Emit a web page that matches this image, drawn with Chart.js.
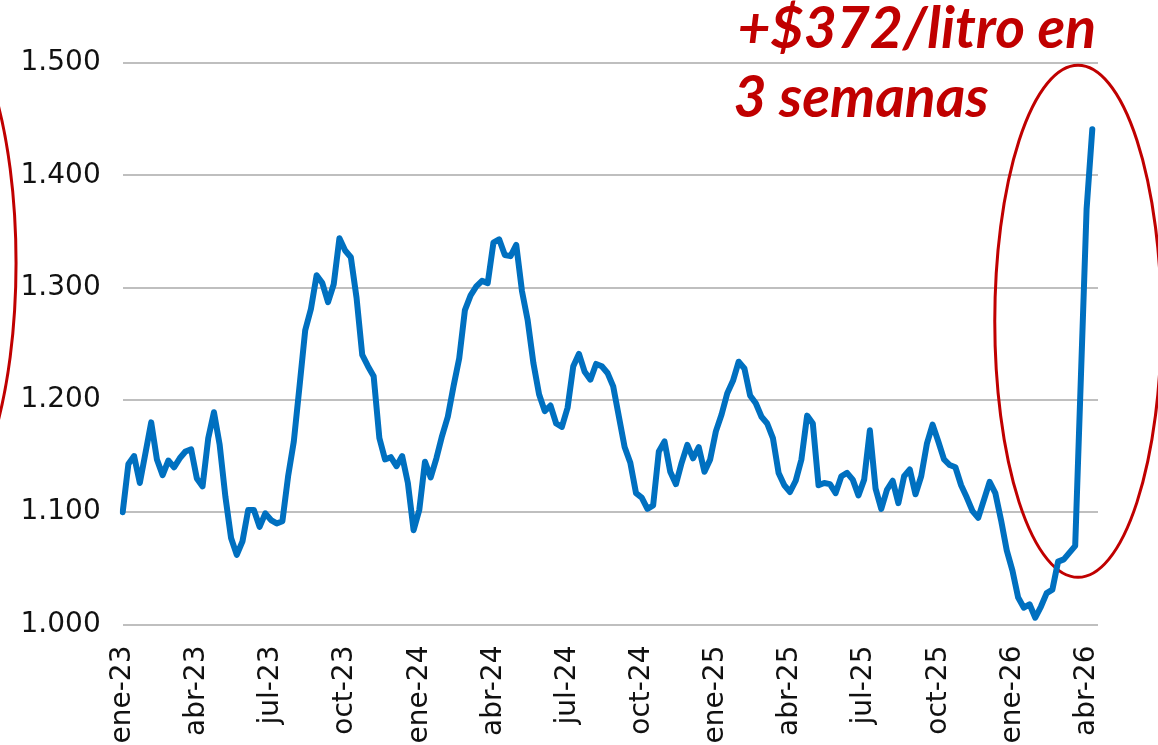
<!DOCTYPE html>
<html>
<head>
<meta charset="utf-8">
<script src="https://cdn.jsdelivr.net/npm/chart.js@4.4.1/dist/chart.umd.min.js"></script>
<style>
  html, body { margin: 0; padding: 0; background: #ffffff; overflow: hidden; }
  #wrap { width: 1158px; height: 745px; position: relative; }
</style>
</head>
<body>
<div id="wrap"><canvas id="c" width="1158" height="745"></canvas></div>
<script>
// ---------- data ----------
const firstWeek = '2023-01-05';   // first weekly category (Thursday)
const weekCount = 172;            // weekly categories on the axis (last one has no value yet)

// weekly price, $/litro
const prices = [
  1100, 1143, 1150, 1126, 1153, 1180, 1147, 1133, 1146, 1140,
  1148, 1154, 1156, 1130, 1123, 1166, 1189, 1160, 1114, 1077,
  1062, 1074, 1102, 1102, 1087, 1099, 1093, 1090, 1092, 1132,
  1163, 1212, 1262, 1281, 1311, 1304, 1287, 1303, 1344, 1333,
  1327, 1291, 1240, 1230, 1221, 1166, 1147, 1149, 1141, 1150,
  1126, 1084, 1102, 1145, 1131, 1148, 1168, 1185, 1212, 1237,
  1280, 1293, 1301, 1306, 1304, 1340, 1343, 1329, 1328, 1338,
  1297, 1271, 1233, 1205, 1190, 1195, 1179, 1176, 1193, 1230,
  1241, 1225, 1218, 1232, 1230, 1224, 1212, 1185, 1158, 1144,
  1117, 1113, 1103, 1106, 1154, 1163, 1136, 1125, 1144, 1160,
  1148, 1158, 1136, 1147, 1172, 1187, 1206, 1217, 1234, 1228,
  1204, 1197, 1185, 1179, 1166, 1135, 1124, 1118, 1128, 1147,
  1186, 1179, 1124, 1126, 1125, 1117, 1132, 1135, 1129, 1115,
  1129, 1173, 1121, 1103, 1120, 1128, 1108, 1132, 1138, 1116,
  1132, 1161, 1178, 1163, 1147, 1142, 1140, 1124, 1113, 1101,
  1095, 1111, 1127, 1117, 1093, 1066, 1048, 1024, 1015, 1018,
  1006, 1016, 1028, 1031, 1056, 1058, 1064, 1070, 1220, 1370,
  1441
];

const tickLabels = ['ene-23', 'abr-23', 'jul-23', 'oct-23', 'ene-24', 'abr-24', 'jul-24',
                    'oct-24', 'ene-25', 'abr-25', 'jul-25', 'oct-25', 'ene-26', 'abr-26'];
const tickEvery = 13;             // one label every 13 weeks
const yTicks = [1000, 1100, 1200, 1300, 1400, 1500];

const noteLines = ['+$372/litro en', '3 semanas'];

// ---------- helpers ----------
const weeks = [];
for (let i = 0; i < weekCount; i++) {
  const d = new Date(firstWeek + 'T00:00:00Z');
  d.setUTCDate(d.getUTCDate() + 7 * i);
  weeks.push(d.toISOString().slice(0, 10));
}
const fmt = v => String(Math.round(v)).replace(/\B(?=(\d{3})+(?!\d))/g, '.');

// highlight ellipses, in axis units (category index / price)
const ellipses = [
  { ci: 167.5, cv: 1270, ri: 14.6, rv: 228 },
  { ci: -33.4, cv: 1322, ri: 14.7, rv: 228 }
];
// annotation text anchors, in axis units
const noteAnchors = [
  { ci: 107.8, cv: 1513 },
  { ci: 107.1, cv: 1452 }
];

const annot = {
  id: 'annot',
  beforeDatasetsDraw(chart) {
    const { ctx, scales: { x, y } } = chart;
    ctx.save();
    ctx.strokeStyle = '#C00000';
    ctx.lineWidth = 3;
    for (const e of ellipses) {
      const cx = x.getPixelForValue(e.ci);
      const cy = y.getPixelForValue(e.cv);
      const rx = Math.abs(x.getPixelForValue(e.ci + e.ri) - cx);
      const ry = Math.abs(y.getPixelForValue(e.cv + e.rv) - cy);
      ctx.beginPath();
      ctx.ellipse(cx, cy, rx, ry, 0, 0, Math.PI * 2);
      ctx.stroke();
    }
    ctx.restore();
  },
  afterDraw(chart) {
    const { ctx, scales: { x, y } } = chart;
    ctx.save();
    ctx.fillStyle = '#C00000';
    ctx.font = 'italic bold 57px Lato, "Liberation Sans", sans-serif';
    ctx.textAlign = 'left';
    ctx.textBaseline = 'alphabetic';
    noteLines.forEach((t, k) => {
      const a = noteAnchors[k];
      ctx.fillText(t, x.getPixelForValue(a.ci), y.getPixelForValue(a.cv));
    });
    ctx.restore();
  }
};

new Chart(document.getElementById('c').getContext('2d'), {
  type: 'line',
  data: {
    labels: weeks,
    datasets: [{
      data: prices,
      borderColor: '#0070C0',
      borderWidth: 6,
      pointRadius: 0,
      pointHoverRadius: 0,
      tension: 0,
      fill: false,
      borderCapStyle: 'round',
      borderJoinStyle: 'round'
    }]
  },
  options: {
    responsive: false,
    animation: false,
    devicePixelRatio: 1,
    layout: { padding: { top: 63, right: 60, left: 0, bottom: 0 } },
    plugins: { legend: { display: false }, tooltip: { enabled: false } },
    scales: {
      x: {
        type: 'category',
        offset: false,
        grid: { display: false },
        border: { display: false },
        ticks: {
          autoSkip: false,
          maxRotation: 90,
          minRotation: 90,
          padding: 13,
          color: '#111111',
          font: { family: 'DejaVu Sans', size: 28 },
          callback: (v, i) => (i % tickEvery === 0 ? (tickLabels[i / tickEvery] || '') : '')
        },
        afterFit: s => { s.height = 120.5; }
      },
      y: {
        min: 1000,
        max: 1500,
        afterBuildTicks: s => { s.ticks = yTicks.map(v => ({ value: v })); },
        grid: { color: '#BFBFBF', lineWidth: 2, drawTicks: false },
        border: { display: false },
        ticks: {
          padding: 22,
          color: '#111111',
          font: { family: 'DejaVu Sans', size: 28 },
          callback: v => fmt(v)
        },
        afterFit: s => { s.width = 122.7; }
      }
    }
  },
  plugins: [annot]
});
</script>
</body>
</html>
